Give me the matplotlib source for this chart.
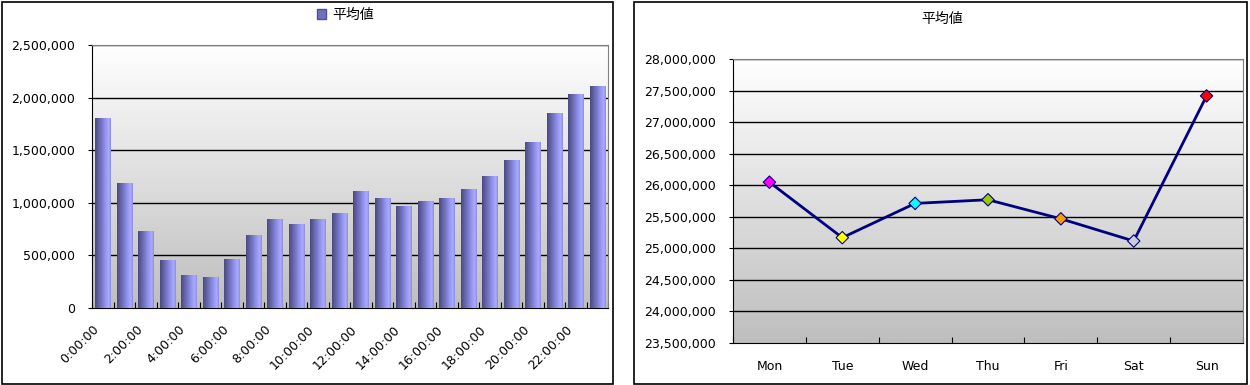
import numpy as np
import matplotlib
matplotlib.use("Agg")
import matplotlib.pyplot as plt
from matplotlib.colors import LinearSegmentedColormap
from matplotlib.patches import Rectangle, Patch
from matplotlib.ticker import FuncFormatter, MultipleLocator

plt.rcParams['font.family'] = ['DejaVu Sans', 'Noto Sans CJK JP']

# hourly averages (left chart)
hours = [f"{h}:00:00" for h in range(24)]
hour_values = [1805000, 1184000, 728000, 453000, 310000, 291000, 462000, 696000,
               842000, 801000, 848000, 905000, 1114000, 1047000, 972000, 1013000,
               1047000, 1133000, 1256000, 1408000, 1579000, 1849000, 2038000, 2115000]

# weekday averages (right chart)
days = ["Mon", "Tue", "Wed", "Thu", "Fri", "Sat", "Sun"]
day_values = [26048000, 25169000, 25712000, 25770000, 25468000, 25116000, 27415000]
day_colors = ["#FF00FF", "#FFFF00", "#00FFFF", "#99CC00", "#FF9900", "#CCCCDD", "#FF0000"]

series_name = "平均値"

W, H = 1250, 385
fig = plt.figure(figsize=(W / 100, H / 100), dpi=100)

bg_cmap = LinearSegmentedColormap.from_list("bg", ["#FFFFFF", "#BEBEBE"])
bar_cmap = LinearSegmentedColormap.from_list(
    "bar", [(0.0, "#4A4A80"), (0.35, "#7070BC"), (0.72, "#9C9CF8"),
            (0.88, "#AAAAFF"), (1.0, "#8C8CDA")])
comma = FuncFormatter(lambda v, p: f"{int(v):,}")


def add_background(ax):
    grad = np.linspace(0, 1, 256).reshape(-1, 1)
    ax.imshow(grad, extent=[0, 1, 0, 1], transform=ax.transAxes, cmap=bg_cmap,
              aspect='auto', zorder=0, origin='upper')


def style_axes(ax):
    for side in ['top', 'right']:
        ax.spines[side].set_color('#808080')
    for side in ['left', 'bottom']:
        ax.spines[side].set_color('black')
    ax.tick_params(axis='y', direction='out', length=3, pad=9, labelsize=9)
    ax.tick_params(axis='x', which='major', direction='in', length=4, labelsize=9)
    ax.tick_params(axis='x', which='minor', length=0, labelsize=9)


# ---- left chart: bars ----
ax1 = fig.add_axes([92 / W, 1 - 308 / H, 516 / W, 263 / H])
add_background(ax1)
xs = np.arange(len(hours))
bars = ax1.bar(xs, hour_values, width=0.7, color='none', edgecolor='none', zorder=3)
grad_h = np.linspace(0, 1, 64).reshape(1, -1)
for b in bars:
    im = ax1.imshow(grad_h, extent=[b.get_x(), b.get_x() + b.get_width(), 0, b.get_height()],
                    aspect='auto', cmap=bar_cmap, zorder=3)
    im.set_clip_path(b)
ax1.set_xlim(-0.5, len(hours) - 0.5)
ax1.set_ylim(0, 2500000)
ax1.yaxis.set_major_locator(MultipleLocator(500000))
ax1.yaxis.set_major_formatter(comma)
for y in range(500000, 2500001, 500000):
    ax1.axhline(y, color='black', lw=1, zorder=1)
ax1.set_xticks(np.arange(-0.5, len(hours), 1))
ax1.set_xticklabels([])
ax1.set_xticks(xs[::2] - 0.25, minor=True)
ax1.set_xticklabels(hours[::2], minor=True, rotation=45, ha='right', va='center',
                    rotation_mode='anchor')
style_axes(ax1)
ax1.tick_params(axis='x', which='minor', pad=14)
ax1.legend(handles=[Patch(facecolor='#7070C0', edgecolor='#505090', label=series_name)],
           loc='center', bbox_to_anchor=(345 / W, 1 - 15 / H), bbox_transform=fig.transFigure,
           frameon=False, fontsize=10, handlelength=0.7, handleheight=0.7, handletextpad=0.4)

# ---- right chart: line ----
ax2 = fig.add_axes([733 / W, 1 - 343 / H, 510 / W, 284 / H])
add_background(ax2)
xd = np.arange(len(days))
ax2.plot(xd, day_values, color='#000080', lw=2, zorder=3)
ax2.scatter(xd, day_values, c=day_colors, marker='D', s=40, edgecolors='#000080',
            linewidths=0.8, zorder=4)
ax2.set_xlim(-0.5, len(days) - 0.5)
ax2.set_ylim(23500000, 28000000)
ax2.yaxis.set_major_locator(MultipleLocator(500000))
ax2.yaxis.set_major_formatter(comma)
for y in range(24000000, 28000001, 500000):
    ax2.axhline(y, color='black', lw=1, zorder=1)
ax2.set_xticks(np.arange(-0.5, len(days), 1))
ax2.set_xticklabels([])
ax2.set_xticks(xd, minor=True)
ax2.set_xticklabels(days, minor=True)
style_axes(ax2)
ax2.tick_params(axis='x', which='minor', pad=12)
fig.text(942 / W, 1 - 19 / H, series_name, fontsize=10, ha='center', va='center')

# outer frames
fig.add_artist(Rectangle((2 / W, 1 / H), 611 / W, 382 / H, fill=False, edgecolor='black',
                         lw=1.2, transform=fig.transFigure))
fig.add_artist(Rectangle((634 / W, 1 / H), 613 / W, 382 / H, fill=False, edgecolor='black',
                         lw=1.2, transform=fig.transFigure))

fig.savefig("out.png", dpi=100)
